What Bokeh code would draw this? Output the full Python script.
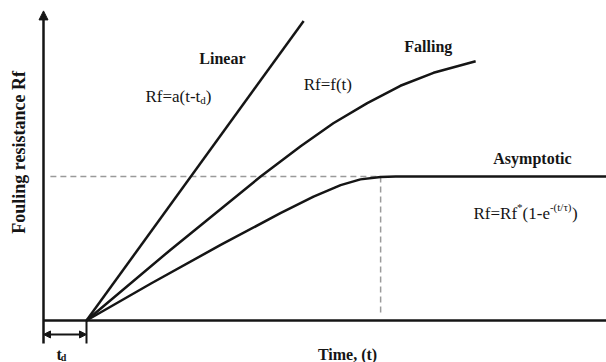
from bokeh.plotting import figure
from bokeh.models import Range1d, Arrow, NormalHead, Label
from bokeh.embed import file_html
from bokeh.resources import INLINE

# ---- data (t in units of t_d, Rf in units of Rf*) ----
t_d = 1.0
linear_t = [1.0, 6.05]
linear_rf = [0.0, 2.08]
falling_t = [1.0, 2.95, 5.05, 5.98, 6.74, 7.53, 8.30, 9.07, 10.05]
falling_rf = [0.0, 0.49, 1.0, 1.21, 1.37, 1.51, 1.63, 1.72, 1.80]
asym_t = [1.0, 2.49, 4.12, 5.51, 6.28, 6.91, 7.37, 7.84, 8.19, 13.2]
asym_rf = [0.0, 0.255, 0.525, 0.745, 0.86, 0.94, 0.98, 0.997, 1.0, 1.0]
rf_star = 1.0
t_reach = 7.84
t_max = 13.2
rf_top = 2.15

INK = "#151515"
FONT = "Liberation Serif"

p = figure(width=606, height=362, x_range=Range1d(-1.0, 13.093),
           y_range=Range1d(-0.2917, 2.2222), toolbar_location=None,
           output_backend="svg", min_border=0, title=None,
           x_axis_type=None, y_axis_type=None)
p.grid.visible = False
p.outline_line_color = None
p.background_fill_color = "white"
p.border_fill_color = "white"

# dashed guides
p.line([0.16, t_reach], [rf_star, rf_star], line_color="#9a9a9a", line_width=1.5, line_dash="6 4")
p.line([t_reach, t_reach], [rf_star, 0.05], line_color="#9a9a9a", line_width=1.5, line_dash="6 4")

# axes
p.line([0, t_max], [0, 0], line_color=INK, line_width=2.5)
p.add_layout(Arrow(x_start=0, y_start=-0.16, x_end=0, y_end=rf_top,
                   line_color=INK, line_width=2.5,
                   end=NormalHead(size=9, fill_color=INK, line_color=INK, line_width=1)))
# t_d bracket
p.line([t_d, t_d], [0, -0.16], line_color=INK, line_width=2)
p.add_layout(Arrow(x_start=0, y_start=-0.097, x_end=t_d, y_end=-0.097,
                   line_color=INK, line_width=2,
                   start=NormalHead(size=7, fill_color=INK, line_color=INK, line_width=1),
                   end=NormalHead(size=7, fill_color=INK, line_color=INK, line_width=1)))

# curves
p.line(linear_t, linear_rf, line_color=INK, line_width=2.5)
p.line(falling_t, falling_rf, line_color=INK, line_width=2.5)
p.line(asym_t, asym_rf, line_color=INK, line_width=2.5)

# Times-like metrics for composing sub/superscripts
W = {"R": 667, "f": 333, "=": 564, "a": 444, "(": 333, ")": 333, "t": 278,
     "-": 333, "d": 500, "*": 500, "1": 500, "e": 444, "/": 278, "τ": 440, " ": 250}


def width(txt, size):
    return sum(W.get(c, 500) for c in txt) / 1000.0 * size


def label(x, y, txt, size, bold=False, align="left", **kw):
    p.add_layout(Label(x=x, y=y, text=txt, text_font=FONT, text_font_size=f"{size}px",
                       text_font_style="bold" if bold else "normal", text_color=INK,
                       text_align=align, text_baseline=kw.pop("baseline", "alphabetic"), **kw))


def rich(x, y, pieces, bold=False):
    off = 0.0
    for txt, size, dy in pieces:
        p.add_layout(Label(x=x, y=y, x_offset=off, y_offset=dy, text=txt, text_font=FONT,
                           text_font_size=f"{size}px", text_color=INK,
                           text_font_style="bold" if bold else "normal",
                           text_align="left", text_baseline="alphabetic"))
        off += width(txt, size)


label(4.16, 1.82, "Linear", 16, bold=True, align="center")
label(8.95, 1.90, "Falling", 16, bold=True, align="center")
label(11.37, 1.125, "Asymptotic", 16, bold=True, align="center")
label(6.05, 1.64, "Rf=f(t)", 17)
rich(2.37, 1.556, [("Rf=a(t-t", 17, 0), ("d", 11, -4), (")", 17, 0)])
rich(10.0, 0.743, [("Rf=Rf", 17, 0), ("*", 11, 7), ("(1-e", 17, 0), ("-(t/τ)", 11, 7), (")", 17, 0)])

label(7.07, -0.236, "Time, (t)", 16, bold=True, align="center")
rich(0.30, -0.236, [("t", 16, 0), ("d", 10, -3)], bold=True)
p.add_layout(Label(x=-0.56, y=1.167, text="Fouling resistance Rf", text_font=FONT,
                   text_font_size="18px", text_font_style="bold", text_color=INK,
                   angle=90, angle_units="deg", text_align="center", text_baseline="middle"))

open("out.html", "w").write(file_html(p, INLINE))
